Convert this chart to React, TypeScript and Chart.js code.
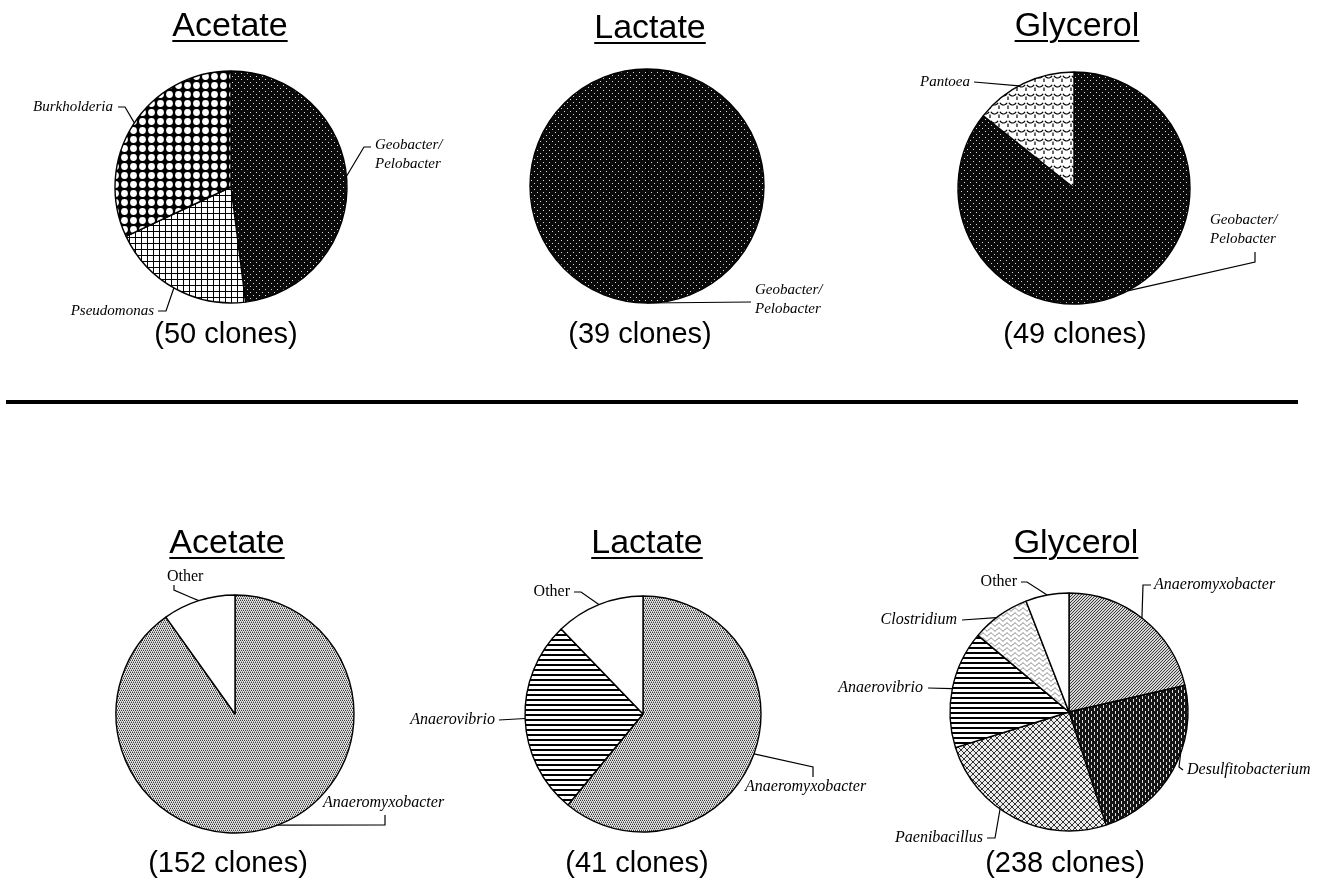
import React, { useEffect, useRef } from "react";
import { Chart, registerables } from "chart.js";

Chart.register(...registerables);

// ---------- DATA ----------
const substrates = ["Acetate", "Lactate", "Glycerol"];
const topClones = [50, 39, 49];
const bottomClones = [152, 41, 238];

const topAcetateLabels = ["Geobacter/Pelobacter", "Pseudomonas", "Burkholderia"];
const topAcetateValues = [24, 10, 16];
const topLactateLabels = ["Geobacter/Pelobacter"];
const topLactateValues = [39];
const topGlycerolLabels = ["Geobacter/Pelobacter", "Pantoea"];
const topGlycerolValues = [42, 7];

const botAcetateLabels = ["Anaeromyxobacter", "Other"];
const botAcetateValues = [137, 15];
const botLactateLabels = ["Anaeromyxobacter", "Anaerovibrio", "Other"];
const botLactateValues = [25, 11, 5];
const botGlycerolLabels = ["Anaeromyxobacter", "Desulfitobacterium", "Paenibacillus", "Anaerovibrio", "Clostridium", "Other"];
const botGlycerolValues = [51, 56, 60, 38, 19, 14];

// ---------- PATTERNS ----------
function tile(w: number, h: number, draw: (c: CanvasRenderingContext2D) => void): CanvasPattern {
  const cv = document.createElement("canvas");
  cv.width = w;
  cv.height = h;
  const c = cv.getContext("2d")!;
  draw(c);
  const ctx = document.createElement("canvas").getContext("2d")!;
  return ctx.createPattern(cv, "repeat") as CanvasPattern;
}

function px(c: CanvasRenderingContext2D, color: string, pts: number[][]) {
  c.fillStyle = color;
  pts.forEach(([x, y]) => c.fillRect(x, y, 1, 1));
}

function makePatterns() {
  const geo = tile(6, 6, (c) => {
    c.fillStyle = "#0a0a0a"; c.fillRect(0, 0, 6, 6);
    px(c, "#d8d8d8", [[1, 1], [4, 4]]);
  });
  const burk = tile(9, 9, (c) => {
    c.fillStyle = "#000"; c.fillRect(0, 0, 9, 9);
    c.fillStyle = "#fff"; c.beginPath(); c.arc(4.5, 4.5, 3.4, 0, Math.PI * 2); c.fill();
  });
  const pseudo = tile(6, 6, (c) => {
    c.fillStyle = "#fff"; c.fillRect(0, 0, 6, 6);
    c.fillStyle = "#000"; c.fillRect(0, 0, 6, 1); c.fillRect(0, 0, 1, 6);
  });
  const pantoea = tile(9, 9, (c) => {
    c.fillStyle = "#fff"; c.fillRect(0, 0, 9, 9);
    c.strokeStyle = "#000"; c.lineWidth = 1.2;
    c.beginPath(); c.arc(4.5, 1, 4, 0.15 * Math.PI, 0.85 * Math.PI); c.stroke();
    c.beginPath(); c.moveTo(0, 5.5); c.lineTo(0, 9); c.stroke();
    c.beginPath(); c.moveTo(9, 5.5); c.lineTo(9, 9); c.stroke();
  });
  const anaeroM = tile(4, 4, (c) => {
    c.fillStyle = "#e4e4e4"; c.fillRect(0, 0, 4, 4);
    px(c, "#3c3c3c", [[0, 0], [2, 0], [1, 2], [3, 2]]);
    px(c, "#9a9a9a", [[1, 1], [3, 1], [0, 3], [2, 3]]);
  });
  const anaeroMG = tile(3, 3, (c) => {
    c.fillStyle = "#d6d6d6"; c.fillRect(0, 0, 3, 3);
    px(c, "#3a3a3a", [[0, 0], [2, 1], [1, 2]]);
  });
  const vibrio = tile(5, 5, (c) => {
    c.fillStyle = "#fff"; c.fillRect(0, 0, 5, 5);
    c.fillStyle = "#000"; c.fillRect(0, 0, 5, 2);
  });
  const other = "#ffffff";
  const desulf = tile(6, 6, (c) => {
    c.fillStyle = "#141414"; c.fillRect(0, 0, 6, 6);
    c.fillStyle = "#e0e0e0"; c.fillRect(1, 0, 1, 3); c.fillRect(4, 3, 1, 3);
  });
  const paeni = tile(6, 6, (c) => {
    c.fillStyle = "#ececec"; c.fillRect(0, 0, 6, 6);
    px(c, "#333", [[0, 0], [1, 1], [2, 2], [3, 3], [4, 4], [5, 5], [5, 0], [4, 1], [3, 2], [2, 3], [1, 4], [0, 5]]);
  });
  const clostr = tile(8, 5, (c) => {
    c.fillStyle = "#fff"; c.fillRect(0, 0, 8, 5);
    c.strokeStyle = "#777"; c.lineWidth = 1;
    c.beginPath();
    for (let x = 0; x <= 8; x += 0.5) {
      const y = 2.5 + 1.5 * Math.sin((x / 8) * Math.PI * 2);
      if (x === 0) c.moveTo(x, y); else c.lineTo(x, y);
    }
    c.stroke();
  });
  return { geo, burk, pseudo, pantoea, anaeroM, anaeroMG, vibrio, other, desulf, paeni, clostr };
}

// ---------- LAYOUT ----------
type Spec = {
  slice: number;
  frac: number;
  tx: number;
  ty: number;
  align: CanvasTextAlign;
  italic: boolean;
  path: [number, number][];
};

type PieDef = {
  cx: number;
  cy: number;
  r: number;
  fontPx: number;
  labels: string[];
  values: number[];
  fills: (p: ReturnType<typeof makePatterns>) => (CanvasPattern | string)[];
  specs: Spec[];
};

const CW = 600;
const CH = 320;

const pies: PieDef[] = [
  {
    cx: 231, cy: 187, r: 116, fontPx: 15, labels: topAcetateLabels, values: topAcetateValues,
    fills: (p) => [p.geo, p.pseudo, p.burk],
    specs: [
      { slice: 0, frac: 0.49, tx: 144, ty: -42, align: "left", italic: true, path: [[140, -40], [133, -40]] },
      { slice: 1, frac: 0.51, tx: -77, ty: 124, align: "right", italic: true, path: [[-73, 124], [-65, 124]] },
      { slice: 2, frac: 0.51, tx: -118, ty: -80, align: "right", italic: true, path: [[-113, -80], [-106, -80]] },
    ],
  },
  {
    cx: 647, cy: 186, r: 117, fontPx: 15, labels: topLactateLabels, values: topLactateValues,
    fills: (p) => [p.geo],
    specs: [{ slice: 0, frac: 0.5, tx: 108, ty: 104, align: "left", italic: true, path: [[104, 116]] }],
  },
  {
    cx: 1074, cy: 188, r: 116, fontPx: 15, labels: topGlycerolLabels, values: topGlycerolValues,
    fills: (p) => [p.geo, p.pantoea],
    specs: [
      { slice: 0, frac: 0.494, tx: 136, ty: 32, align: "left", italic: true, path: [[181, 64], [181, 74]] },
      { slice: 1, frac: 0.45, tx: -104, ty: -106, align: "right", italic: true, path: [[-100, -106]] },
    ],
  },
  {
    cx: 235, cy: 714, r: 119, fontPx: 16, labels: botAcetateLabels, values: botAcetateValues,
    fills: (p) => [p.anaeroM, p.other],
    specs: [
      { slice: 0, frac: 0.49, tx: 88, ty: 89, align: "left", italic: true, path: [[150, 101], [150, 111]] },
      { slice: 1, frac: 0.5, tx: -68, ty: -137, align: "left", italic: false, path: [[-61, -129], [-61, -124], [-45, -117]] },
    ],
  },
  {
    cx: 643, cy: 714, r: 118, fontPx: 16, labels: botLactateLabels, values: botLactateValues,
    fills: (p) => [p.anaeroM, p.vibrio, p.other],
    specs: [
      { slice: 0, frac: 0.5, tx: 102, ty: 73, align: "left", italic: true, path: [[170, 63], [170, 53]] },
      { slice: 1, frac: 0.5, tx: -148, ty: 6, align: "right", italic: true, path: [[-144, 6]] },
      { slice: 2, frac: 0.5, tx: -73, ty: -122, align: "right", italic: false, path: [[-69, -122], [-62, -122]] },
    ],
  },
  {
    cx: 1069, cy: 712, r: 119, fontPx: 16, labels: botGlycerolLabels, values: botGlycerolValues,
    fills: (p) => [p.anaeroMG, p.desulf, p.paeni, p.vibrio, p.clostr, p.other],
    specs: [
      { slice: 0, frac: 0.49, tx: 85, ty: -127, align: "left", italic: true, path: [[82, -127], [74, -127]] },
      { slice: 1, frac: 0.39, tx: 118, ty: 58, align: "left", italic: true, path: [[114, 58], [110, 55]] },
      { slice: 2, frac: 0.59, tx: -86, ty: 126, align: "right", italic: true, path: [[-82, 126], [-74, 126]] },
      { slice: 3, frac: 0.5, tx: -146, ty: -24, align: "right", italic: true, path: [[-141, -24]] },
      { slice: 4, frac: 0.43, tx: -112, ty: -92, align: "right", italic: true, path: [[-107, -92]] },
      { slice: 5, frac: 0.5, tx: -52, ty: -130, align: "right", italic: false, path: [[-48, -130], [-42, -130]] },
    ],
  },
];

const titlePos = [
  { x: 230, y: 36 }, { x: 650, y: 38 }, { x: 1077, y: 36 },
  { x: 227, y: 553 }, { x: 647, y: 553 }, { x: 1076, y: 553 },
];
const clonePos = [
  { x: 226, y: 344 }, { x: 640, y: 344 }, { x: 1075, y: 344 },
  { x: 228, y: 873 }, { x: 637, y: 873 }, { x: 1065, y: 873 },
];

function leaderPlugin(specs: Spec[], fontPx: number) {
  return {
    id: "leaders",
    afterDatasetsDraw(chart: any) {
      const meta = chart.getDatasetMeta(0);
      const ctx: CanvasRenderingContext2D = chart.ctx;
      const labels = chart.data.labels as string[];
      specs.forEach((s) => {
        const arc = meta.data[s.slice];
        const p = arc.getProps(["x", "y", "startAngle", "endAngle", "outerRadius"], true);
        const a = p.startAngle + s.frac * (p.endAngle - p.startAngle);
        const ex = p.x + Math.cos(a) * p.outerRadius;
        const ey = p.y + Math.sin(a) * p.outerRadius;
        ctx.save();
        ctx.strokeStyle = "#000";
        ctx.lineWidth = 1.2;
        ctx.beginPath();
        s.path.forEach(([dx, dy], i) => {
          if (i === 0) ctx.moveTo(p.x + dx, p.y + dy);
          else ctx.lineTo(p.x + dx, p.y + dy);
        });
        ctx.lineTo(ex, ey);
        ctx.stroke();
        const text = labels[s.slice];
        const lines = text.includes("/") ? [text.split("/")[0] + "/", text.split("/")[1]] : [text];
        ctx.fillStyle = "#000";
        ctx.font = `${s.italic ? "italic " : ""}${fontPx}px "Liberation Serif", "DejaVu Serif", serif`;
        ctx.textAlign = s.align;
        ctx.textBaseline = "middle";
        lines.forEach((ln, i) => ctx.fillText(ln, p.x + s.tx, p.y + s.ty + i * 19));
        ctx.restore();
      });
    },
  };
}

function PieCanvas({ def }: { def: PieDef }) {
  const ref = useRef<HTMLCanvasElement>(null);
  useEffect(() => {
    const pats = makePatterns();
    const chart = new Chart(ref.current!, {
      type: "pie",
      data: {
        labels: def.labels,
        datasets: [
          {
            data: def.values,
            backgroundColor: def.fills(pats) as any,
            borderColor: "#000",
            borderWidth: 1.4,
            radius: def.r,
          } as any,
        ],
      },
      options: {
        animation: false,
        responsive: false,
        maintainAspectRatio: false,
        events: [],
        layout: { padding: 0 },
        plugins: { legend: { display: false }, tooltip: { enabled: false }, title: { display: false } },
      },
      plugins: [leaderPlugin(def.specs, def.fontPx)],
    });
    return () => chart.destroy();
  }, [def]);
  return (
    <canvas
      ref={ref}
      width={CW}
      height={CH}
      style={{ position: "absolute", left: def.cx - CW / 2, top: def.cy - CH / 2, width: CW, height: CH }}
    />
  );
}

const SANS = '"Liberation Sans", Arial, Helvetica, sans-serif';

function TextAt({ x, y, size, text, underline }: { x: number; y: number; size: number; text: string; underline?: boolean }) {
  return (
    <div
      style={{
        position: "absolute",
        left: x - 200,
        width: 400,
        top: y - 0.8465 * size,
        fontFamily: SANS,
        fontSize: size,
        lineHeight: 1,
        textAlign: "center",
        color: "#000",
        whiteSpace: "nowrap",
        textDecoration: underline ? "underline" : "none",
        textDecorationThickness: underline ? "2px" : undefined,
        textUnderlineOffset: underline ? "4px" : undefined,
      }}
    >
      {text}
    </div>
  );
}

export default function App() {
  return (
    <div style={{ position: "fixed", left: 0, top: 0, width: 1320, height: 880, background: "#fff", overflow: "hidden" }}>
      {pies.map((d, i) => (
        <PieCanvas key={i} def={d} />
      ))}
      {titlePos.map((p, i) => (
        <TextAt key={"t" + i} x={p.x} y={p.y} size={34} text={substrates[i % 3]} underline />
      ))}
      {clonePos.map((p, i) => (
        <TextAt key={"c" + i} x={p.x} y={p.y} size={29} text={`(${i < 3 ? topClones[i] : bottomClones[i - 3]} clones)`} />
      ))}
      <div style={{ position: "absolute", left: 6, top: 400, width: 1292, height: 4, background: "#000" }} />
    </div>
  );
}
